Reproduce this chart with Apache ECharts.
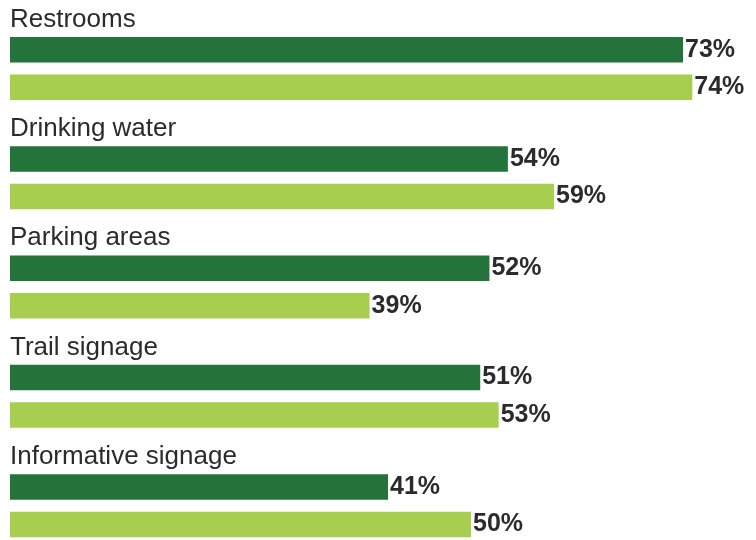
<!DOCTYPE html>
<html>
<head>
<meta charset="utf-8">
<script src="https://cdn.jsdelivr.net/npm/echarts@6/dist/echarts.min.js"></script>
<style>
html,body{margin:0;padding:0;background:#fff;}
#chart{width:756px;height:540px;}
</style>
</head>
<body>
<div id="chart"></div>
<script>
var categories = ['Restrooms', 'Drinking water', 'Parking areas', 'Trail signage', 'Informative signage'];
var seriesDark = [73, 54, 52, 51, 41];
var seriesLight = [74, 59, 39, 53, 50];

var chart = echarts.init(document.getElementById('chart'), null, {renderer: 'canvas'});
var labelStyle = {
  show: true,
  position: 'right',
  distance: 2,
  formatter: '{c}%',
  fontFamily: 'Liberation Sans, Arial, sans-serif',
  fontWeight: 'bold',
  fontSize: 25,
  color: '#2b2b2b'
};
chart.setOption({
  backgroundColor: '#ffffff',
  animation: false,
  grid: {left: 10, top: 13.8, width: 737.6, height: 546.5, containLabel: false, outerBoundsMode: 'none'},
  xAxis: {
    type: 'value', min: 0, max: 80,
    show: false
  },
  yAxis: {
    type: 'category',
    data: categories,
    inverse: true,
    axisLine: {show: false},
    axisTick: {show: false},
    splitLine: {show: false},
    axisLabel: {
      inside: true,
      margin: 0,
      interval: 0,
      showMinLabel: true,
      showMaxLabel: true,
      hideOverlap: false,
      align: 'left',
      verticalAlign: 'middle',
      lineHeight: 49,
      formatter: function (v) { return v + '\n \n '; },
      fontFamily: 'Liberation Sans, Arial, sans-serif',
      fontSize: 26,
      color: '#2b2b2b'
    }
  },
  series: [
    {
      type: 'bar',
      data: seriesDark,
      barWidth: 25.5,
      barGap: '47%',
      itemStyle: {color: '#23733b'},
      label: labelStyle
    },
    {
      type: 'bar',
      data: seriesLight,
      barWidth: 25.5,
      itemStyle: {color: '#a7ce4f'},
      label: labelStyle
    }
  ]
});
</script>
</body>
</html>
